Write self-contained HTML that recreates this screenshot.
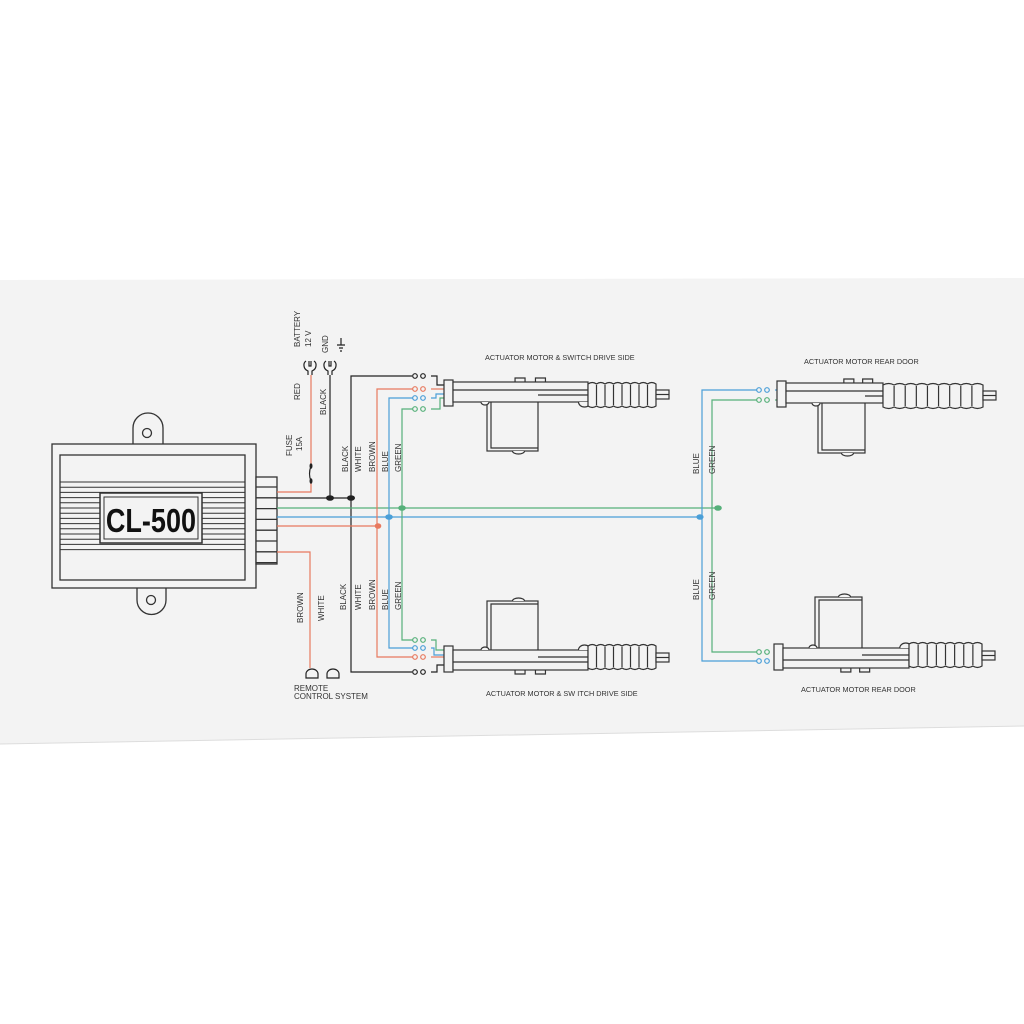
<!DOCTYPE html>
<html><head><meta charset="utf-8"><style>
html,body{margin:0;padding:0;background:#fff;width:1024px;height:1024px;overflow:hidden}
svg{display:block}
text{font-family:"Liberation Sans",sans-serif;fill:#333}
</style></head><body>
<svg id="s" width="1024" height="1024" viewBox="0 0 1024 1024" xmlns="http://www.w3.org/2000/svg">
<rect width="1024" height="1024" fill="#fff"/>
<polygon points="0,280 1024,278 1024,726 0,744" fill="#f3f3f3"/>
<line x1="0" y1="744" x2="1024" y2="726" stroke="#ddd" stroke-width="1"/>
<g id="main" fill="none" stroke="#333" stroke-width="1.3">
<path d="M133,444 V428 a15,15 0 0 1 30,0 V444" fill="#f3f3f3"/>
<circle cx="147" cy="433" r="4.5"/>
<path d="M137,588 V600 a14,14 0 0 0 29,0 V588" fill="#f3f3f3"/>
<circle cx="151" cy="600" r="4.5"/>
<rect x="52" y="444" width="204" height="144" fill="#f3f3f3"/>
<rect x="60" y="455" width="185" height="125"/>
<g id="stripes" stroke-width="1"></g>
<rect x="100" y="493" width="102" height="50" fill="#f3f3f3" stroke-width="1.5"/>
<rect x="104" y="497" width="94" height="42" fill="#f3f3f3" stroke-width="1"/>
<rect x="256" y="477" width="21" height="87" fill="#f3f3f3"/>
</g>
<text x="151" y="532" text-anchor="middle" font-size="33" font-weight="bold" style="fill:#111" transform="scale(0.82,1) translate(33.1,0)">CL-500</text>
<g id="wires" fill="none" stroke-width="1.2"></g>
<g id="acts" fill="#f3f3f3" stroke="#333" stroke-width="1.2"></g>
<g id="labels" font-size="8"></g>
</svg>
<script>
const NS="http://www.w3.org/2000/svg";
function el(p,t,a){const e=document.createElementNS(NS,t);for(const k in a)e.setAttribute(k,a[k]);p.appendChild(e);return e;}
const st=document.getElementById('stripes');
for(let y=482;y<=552;y+=5.2){el(st,'line',{x1:60,y1:y,x2:245,y2:y});}
const m=document.getElementById('main');
for(let y=487;y<564;y+=10.8)el(m,'line',{x1:256,y1:y,x2:277,y2:y});
const W=document.getElementById('wires');
const K='#222',R='#e8795e',B='#4a9fd8',G='#56b07a';
function pl(pts,c){el(W,'polyline',{points:pts,stroke:c});}
function dot(x,y,c,r){el(W,'ellipse',{cx:x,cy:y,rx:r||3.5,ry:2.8,fill:c,stroke:'none'});}
function term(x,y,c){el(W,'circle',{cx:x,cy:y,r:2.3,stroke:c,fill:'#f3f3f3'});el(W,'circle',{cx:x+8,cy:y,r:2.3,stroke:c,fill:'#f3f3f3'});}
pl('277,492 311,492 311,481',R);
pl('311,466 311,375',R);
el(W,'path',{d:'M311,481 q-3,-7 0,-15',stroke:K});
dot(311,481,K,1.5);dot(311,466,K,1.5);
function lug(x,y){el(W,'path',{d:`M${x-2},${y+9} v-4 c-5,-2 -5,-8 -2,-10 M${x+2},${y+9} v-4 c5,-2 5,-8 2,-10 M${x-1},${y-5} v5 h2 v-5`,stroke:K});}
lug(310,366);lug(330,366);
el(W,'path',{d:'M337,345 h8 M339,348 h4 M340,351 h2 M341,338 v7',stroke:K});
pl('330,375 330,498',K);
pl('277,498 351,498',K);
dot(330,498,K,4);dot(351,498,K,4);
pl('412,376 351,376 351,672 412,672',K);
pl('277,508 718,508',G);
pl('277,517 700,517',B);
pl('277,526 378,526',R);
pl('277,552 310,552 310,668',R);
pl('414,389 377,389 377,657 414,657',R);
pl('414,398 389,398 389,648 414,648',B);
pl('414,409 402,409 402,640 414,640',G);
dot(378,526,R,3.3);dot(389,517,B,3.8);dot(402,508,G,3.8);
el(W,'path',{d:'M306,678 v-4 a6,5 0 0 1 12,0 v4 z',stroke:K});
el(W,'path',{d:'M327,678 v-4 a6,5 0 0 1 12,0 v4 z',stroke:K});
pl('757,390 702,390 702,661 757,661',B);
pl('757,400 712,400 712,652 757,652',G);
dot(700,517,B,3.6);dot(718,508,G,3.8);
term(415,376,K);term(415,389,R);term(415,398,B);term(415,409,G);
pl('431,376 437,376 437,385 444,385',K);
pl('431,389 444,389',R);
pl('431,398 436,398 436,394 444,394',B);
pl('431,409 440,409 440,398 444,398',G);
term(415,640,G);term(415,648,B);term(415,657,R);term(415,672,K);
pl('431,640 436,640 436,650 444,650',G);
pl('431,648 434,648 434,655 444,655',B);
pl('431,657 444,657',R);
pl('431,672 437,672 437,665 444,665',K);
term(759,390,B);term(759,400,G);
pl('775,390 781,390',B);pl('775,400 781,400',G);
term(759,652,G);term(759,661,B);
pl('775,652 779,652',G);pl('775,661 779,661',B);
const A=document.getElementById('acts');
function act(x,y,f,bodyL,mx,mw,mh,bootL,nr){
 const g=el(A,'g',{transform:`translate(${x},${y}) scale(1,${f})`});
 el(g,'rect',{x:0,y:-13,width:9,height:26});
 el(g,'path',{d:`M${mx+mw*0.55},-11 v-4 h10 v4 M${mx+mw*0.95},-11 v-4 h10 v4`});
 el(g,'rect',{x:mx,y:8,width:mw,height:mh});
 el(g,'path',{d:`M${mx+4},8 v${mh-3} h${mw-4}`,fill:'none'});
 el(g,'path',{d:`M${mx+mw*0.5},${8+mh} a6,3 0 0 0 12,0`});
 el(g,'rect',{x:9,y:-11,width:bodyL,height:20});
 el(g,'line',{x1:9,y1:-3,x2:9+bodyL,y2:-3});
 el(g,'line',{x1:mx+mw,y1:2,x2:9+bodyL,y2:2});
 el(g,'path',{d:`M${mx+mw+bodyL*0.3},9 a6,5 0 0 0 12,0`});
 el(g,'path',{d:`M${mx-6},9 a4,3 0 0 0 8,0`});
 const bx=9+bodyL, rp=bootL/nr;
 let d=`M${bx},-9 `;
 for(let i=0;i<nr;i++){d+=`q${rp/2},-3 ${rp},0 `;}
 d+=`v22 `;
 for(let i=0;i<nr;i++){d+=`q${-rp/2},3 ${-rp},0 `;}
 d+='z';el(g,'path',{d});
 for(let i=1;i<nr;i++)el(g,'line',{x1:bx+i*rp,y1:-8,x2:bx+i*rp,y2:12});
 el(g,'rect',{x:bx+bootL,y:-3,width:13,height:9});
 el(g,'line',{x1:bx+bootL,y1:1.5,x2:bx+bootL+13,y2:1.5});
}
act(444,393,1,135,43,51,50,68,8);
act(444,659,-1,135,43,51,50,68,8);
act(777,394,1,97,41,47,51,100,9);
act(774,657,-1,126,41,47,52,73,8);
const L=document.getElementById('labels');
function t(x,y,s,rot,size,anchor){const e=el(L,'text',{x,y,'font-size':size||8,'text-anchor':anchor||'start'});if(rot)e.setAttribute('transform',`rotate(-90 ${x} ${y})`);e.textContent=s;}
t(300,347,'BATTERY',1);t(311,347,'12 V',1);
t(328,353,'GND',1);
t(300,400,'RED',1);t(326,415,'BLACK',1);
t(292,456,'FUSE',1);t(302,451,'15A',1);
t(348,472,'BLACK',1);t(361,472,'WHITE',1);t(375,472,'BROWN',1);t(388,472,'BLUE',1);t(401,472,'GREEN',1);
t(346,610,'BLACK',1);t(361,610,'WHITE',1);t(375,610,'BROWN',1);t(388,610,'BLUE',1);t(401,610,'GREEN',1);
t(303,623,'BROWN',1);t(324,621,'WHITE',1);
t(699,474,'BLUE',1);t(715,474,'GREEN',1);
t(699,600,'BLUE',1);t(715,600,'GREEN',1);
t(294,691,'REMOTE');t(294,699,'CONTROL  SYSTEM');
t(485,360,'ACTUATOR MOTOR & SWITCH DRIVE SIDE',0,7.3);
t(486,696,'ACTUATOR MOTOR & SW ITCH DRIVE SIDE',0,7.3);
t(804,364,'ACTUATOR MOTOR REAR DOOR',0,7.3);
t(801,692,'ACTUATOR MOTOR REAR DOOR',0,7.3);
</script>
</body></html>
